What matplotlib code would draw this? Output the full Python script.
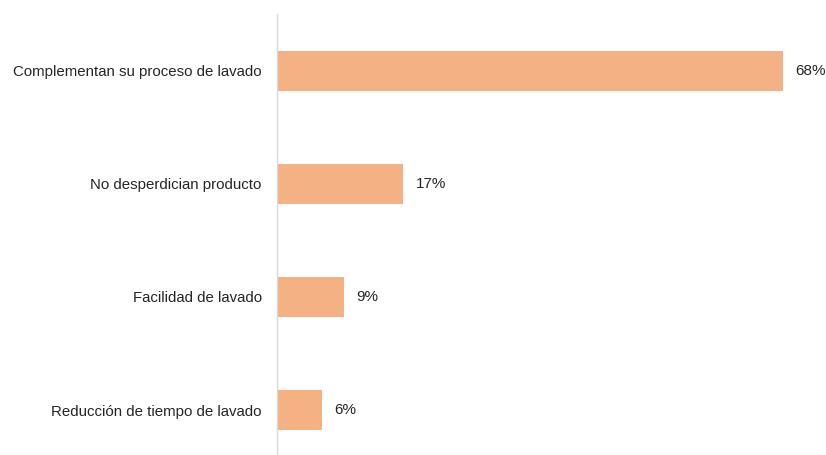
import matplotlib
matplotlib.use("Agg")
import matplotlib.pyplot as plt

categories = [
    "Complementan su proceso de lavado",
    "No desperdician producto",
    "Facilidad de lavado",
    "Reducción de tiempo de lavado",
]
values = [68, 17, 9, 6]
value_labels = ["68%", "17%", "9%", "6%"]

plt.rcParams["font.family"] = ["Liberation Sans", "DejaVu Sans"]

fig = plt.figure(figsize=(8.26, 4.55), dpi=100)
ax = fig.add_axes([277 / 826, -0.0257, 1 - 277 / 826, 0.9949])

bar_color = "#F4B183"
text_color = "#262626"
pos = list(range(len(categories)))
ax.barh(pos, values, height=0.353, color=bar_color)

for p, v, lab in zip(pos, values, value_labels):
    ax.annotate(lab, xy=(v, p), xytext=(9, 0), textcoords="offset points",
                va="center", ha="left", fontsize=11, color=text_color)

ax.set_yticks(pos)
ax.set_yticklabels(categories, fontsize=10.8, color=text_color)
ax.tick_params(axis="y", length=0, pad=11)
ax.set_ylim(3.5, -0.5)
ax.set_xlim(0, 73.8)
ax.set_xticks([])

for side in ["top", "right", "bottom"]:
    ax.spines[side].set_visible(False)
ax.spines["left"].set_color("#D9D9D9")
ax.spines["left"].set_linewidth(1.0)

fig.savefig("out.png", dpi=100)
